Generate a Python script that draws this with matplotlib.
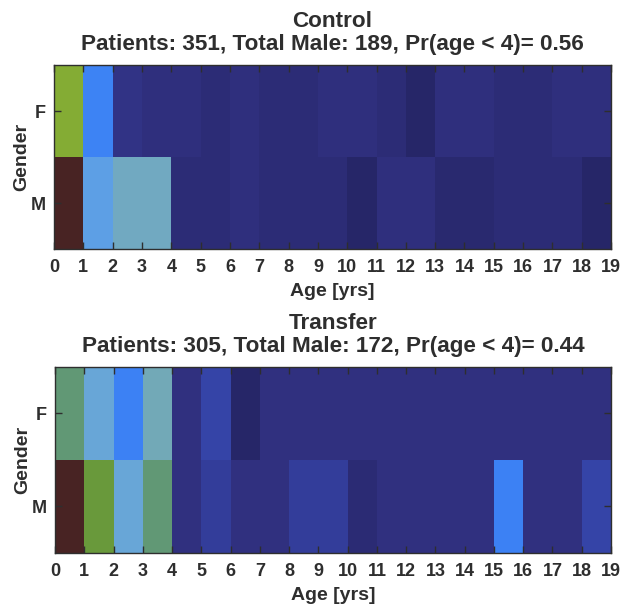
import numpy as np
import matplotlib
matplotlib.use("Agg")
import matplotlib.pyplot as plt
from matplotlib.colors import LinearSegmentedColormap

plt.rcParams['font.family'] = ['Liberation Sans', 'DejaVu Sans']
plt.rcParams['font.weight'] = 'bold'
ink = '#2e2e2e'
plt.rcParams['text.color'] = ink
plt.rcParams['axes.labelcolor'] = ink
plt.rcParams['xtick.color'] = ink
plt.rcParams['ytick.color'] = ink

# patient counts per age bin (0..18 yrs), female and male
ages = np.arange(0, 20)
genders = ['M', 'F']

control_f = [38, 19, 7, 6, 6, 5, 6, 5, 5, 6, 6, 5, 3, 6, 6, 5, 5, 6, 6]
control_m = [63, 22, 26, 26, 5, 5, 6, 5, 5, 5, 3, 6, 6, 4, 4, 5, 5, 5, 3]
transfer_f = [19, 15, 12, 17, 4, 7, 2, 4, 4, 4, 4, 4, 4, 4, 4, 4, 4, 4, 4]
transfer_m = [40, 22, 15, 19, 4, 6, 4, 4, 6, 6, 3, 4, 4, 4, 4, 12, 4, 4, 7]

panels = [
    ('Control\nPatients: 351, Total Male: 189, Pr(age < 4)= 0.56', control_f, control_m),
    ('Transfer\nPatients: 305, Total Male: 172, Pr(age < 4)= 0.44', transfer_f, transfer_m),
]

# muted jet-style palette
stops = [
    (0.00, (30, 30, 82)),
    (0.10, (48, 48, 128)),
    (0.20, (55, 75, 182)),
    (0.30, (60, 130, 245)),
    (0.36, (100, 165, 225)),
    (0.42, (115, 170, 188)),
    (0.48, (95, 150, 110)),
    (0.54, (100, 150, 60)),
    (0.62, (140, 178, 50)),
    (0.80, (170, 90, 40)),
    (1.00, (72, 35, 35)),
]
cmap = LinearSegmentedColormap.from_list(
    'muted_jet', [(p, tuple(c / 255 for c in rgb)) for p, rgb in stops])

fig = plt.figure(figsize=(6.21, 6.06), dpi=100)
boxes = [[0.087, 0.5891, 0.897, 0.3036], [0.0886, 0.0875, 0.8953, 0.307]]

for box, (title, f_row, m_row) in zip(boxes, panels):
    ax = fig.add_axes(box)
    data = np.array([m_row, f_row], dtype=float)
    ax.pcolormesh(ages, [0, 1, 2], data, cmap=cmap, vmin=0, vmax=data.max())
    ax.set_xlim(0, 19)
    ax.set_ylim(0, 2)
    ax.set_xticks(ages)
    ax.set_yticks([0.5, 1.5])
    ax.set_yticklabels(genders)
    ax.tick_params(direction='in', top=True, right=True, length=5,
                   labelsize=13, width=1, pad=7)
    ax.tick_params(axis='y', pad=6)
    for lab in ax.get_xticklabels() + ax.get_yticklabels():
        lab.set_fontweight('bold')
    ax.set_xlabel('Age [yrs]', fontsize=14, fontweight='bold', labelpad=5)
    ax.set_ylabel('Gender', fontsize=14, fontweight='bold', labelpad=0)
    ax.set_title(title, fontsize=16.2, fontweight='bold', pad=11, linespacing=1.12)
    for s in ax.spines.values():
        s.set_linewidth(1)
        s.set_color(ink)

fig.savefig('out.png', dpi=100)
